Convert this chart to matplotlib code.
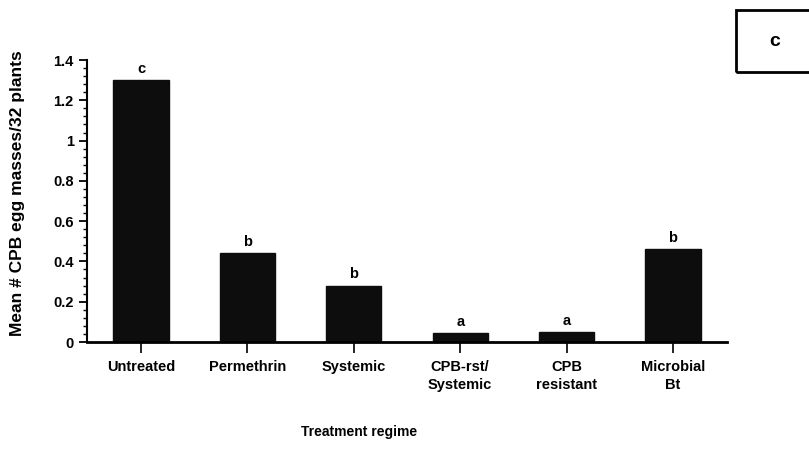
import matplotlib
matplotlib.use("Agg")
import matplotlib.pyplot as plt
from matplotlib.patches import Rectangle
from matplotlib.ticker import MultipleLocator

categories = ["Untreated", "Permethrin", "Systemic", "CPB-rst/\nSystemic", "CPB\nresistant", "Microbial\nBt"]
means = [1.30, 0.44, 0.28, 0.045, 0.05, 0.46]
letters = ["c", "b", "b", "a", "a", "b"]
yticks = [0, 0.2, 0.4, 0.6, 0.8, 1.0, 1.2, 1.4]
ytick_labels = ["0", "0.2", "0.4", "0.6", "0.8", "1", "1.2", "1.4"]

plt.rcParams['font.family'] = ['Liberation Sans', 'DejaVu Sans']

fig = plt.figure(figsize=(8.09, 4.57), dpi=100)
ax = fig.add_axes([87/809, 115/457, 640/809, 282/457])

x = list(range(len(categories)))
ax.bar(x, means, width=0.52, color="#0d0d0d", edgecolor="#0d0d0d")
for xi, m, l in zip(x, means, letters):
    ax.annotate(l, (xi, m), xytext=(0, 3), textcoords="offset points",
                ha="center", va="bottom", fontsize=10.5, fontweight="bold")

ax.set_xlim(-0.507, 5.507)
ax.set_ylim(0, 1.4)
ax.set_xticks(x)
ax.set_xticklabels(categories, fontsize=10.5, fontweight="bold", linespacing=1.35)
ax.set_yticks(yticks)
ax.set_yticklabels(ytick_labels, fontsize=10.5, fontweight="bold")
ax.yaxis.set_minor_locator(MultipleLocator(0.04))
ax.tick_params(axis="y", which="major", length=6, width=1.3, direction="out")
ax.tick_params(axis="y", which="minor", length=3, width=1.0, direction="out")
ax.tick_params(axis="x", length=8, width=1.2, direction="out", pad=5)
for s in ["top", "right"]:
    ax.spines[s].set_visible(False)
ax.spines["left"].set_linewidth(1.5)
ax.spines["bottom"].set_linewidth(2.0)

fig.text(359/809, 1 - 432/457, "Treatment regime", ha="center", va="center",
         fontsize=10, fontweight="bold")
fig.text(18/809, 1 - 193/457, "Mean # CPB egg masses/32 plants", ha="center", va="center",
         rotation=90, fontsize=12.5, fontweight="bold")

fig.patches.append(Rectangle((736/809, 1 - 72/457), 80/809, 62/457, transform=fig.transFigure,
                             fill=False, edgecolor="black", linewidth=2.0))
fig.text(775/809, 1 - 42/457, "c", ha="center", va="center", fontsize=14, fontweight="bold")

fig.savefig("out.png", dpi=100)
